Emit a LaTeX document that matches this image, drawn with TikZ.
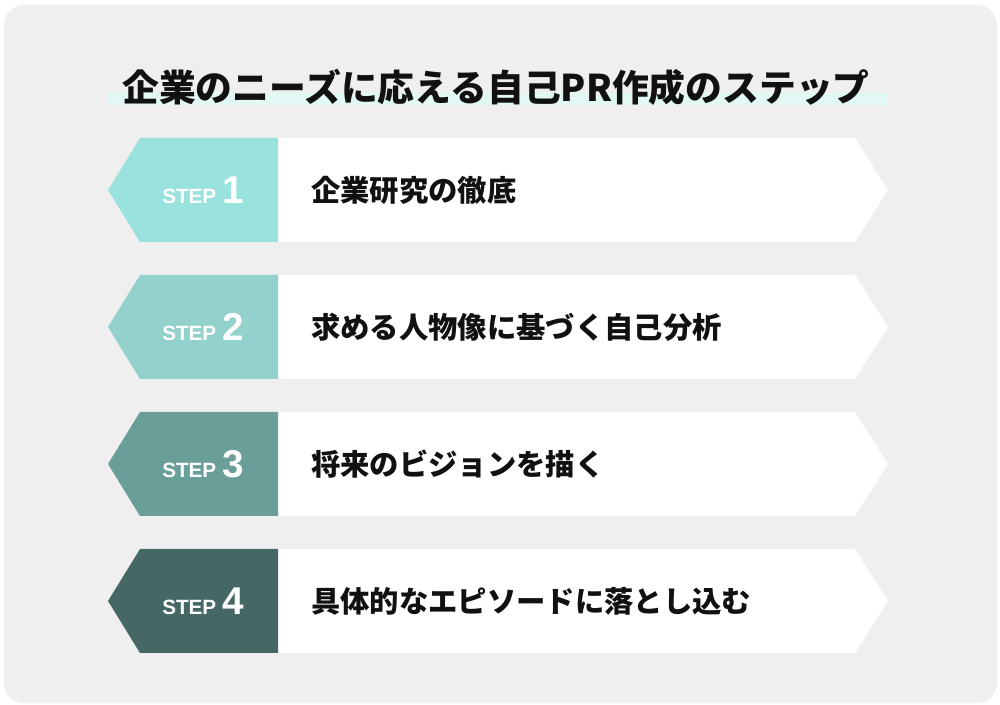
\documentclass[tikz,border=0pt]{standalone}
\usepackage{fontspec}
\setmainfont{Liberation Sans}
\newfontfamily\jpfont{Noto Sans CJK JP}
\newfontfamily\lblfont{Liberation Sans}
\definecolor{bggray}{HTML}{EFEFEF}
\definecolor{hilite}{HTML}{E2F8F5}
\definecolor{sone}{HTML}{9AE2DD}
\definecolor{stwo}{HTML}{93D1CC}
\definecolor{sthree}{HTML}{6A9E99}
\definecolor{sfour}{HTML}{466864}
\definecolor{txt}{HTML}{111111}
\tikzset{
  px/.style={x=0.75pt,y=-0.75pt},
  titletext/.style={font=\jpfont\bfseries\fontsize{27.6}{30}\selectfont, text=txt, inner sep=0pt},
  bodytext/.style={font=\jpfont\bfseries\fontsize{22}{26}\selectfont, text=txt, inner sep=0pt, anchor=west},
  steplabel/.style={text=white, inner sep=0pt},
}
\newcommand{\steptag}[1]{{\lblfont\bfseries\fontsize{15.5}{18}\selectfont STEP}\hspace{4.5pt}{\lblfont\bfseries\fontsize{29}{32}\selectfont #1}}
\begin{document}
\begin{tikzpicture}[px]
\useasboundingbox (0,0) rectangle (1000,705);
\fill[white] (0,0) rectangle (1000,705);
\fill[bggray, rounded corners=15pt] (4,5) rectangle (997,703);
% title highlight
\fill[hilite] (108,93) rectangle (888,105);
\node[titletext, anchor=base] (title) at (496,102) {企業のニーズに応える自己PR作成のステップ};
% rows
\foreach \i/\T/\col/\txt in {1/138/sone/企業研究の徹底, 2/275/stwo/求める人物像に基づく自己分析, 3/412/sthree/将来のビジョンを描く, 4/549/sfour/具体的なエピソードに落とし込む}{
  \pgfmathsetmacro{\B}{\T+104}
  \pgfmathsetmacro{\M}{\T+52}
  \fill[white] (278,\T) -- (855,\T) -- (888,\M) -- (855,\B) -- (278,\B) -- cycle;
  \fill[\col] (108,\M) -- (140,\T) -- (278,\T) -- (278,\B) -- (140,\B) -- cycle;
  \node[steplabel] (lbl\i) at (203,\M) {\steptag{\i}};
  \node[bodytext] (body\i) at (311,\M) {\txt};
}
\end{tikzpicture}
\end{document}
